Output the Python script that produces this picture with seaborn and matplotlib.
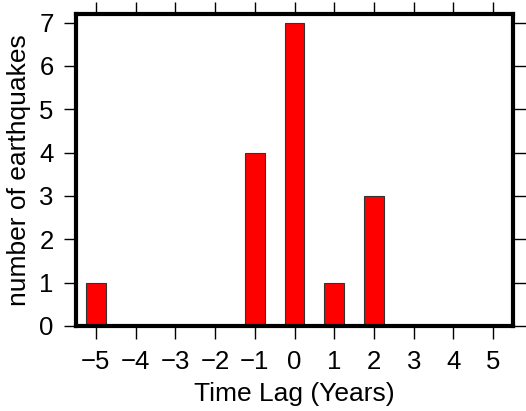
import matplotlib
matplotlib.use("Agg")
import matplotlib.pyplot as plt
import seaborn as sns
import pandas as pd

# values
time_lag = [-5, -1, 0, 1, 2]
counts = [1, 4, 7, 1, 3]
x_ticks = list(range(-5, 6))
y_ticks = list(range(0, 8))

sns.set_style("white")
plt.rcParams['font.family'] = ['Liberation Sans', 'DejaVu Sans']
plt.rcParams['axes.unicode_minus'] = True
plt.rcParams['text.color'] = 'black'
plt.rcParams['axes.labelcolor'] = 'black'
plt.rcParams['xtick.color'] = 'black'
plt.rcParams['ytick.color'] = 'black'

df = pd.DataFrame({'lag': time_lag, 'count': counts})

fig = plt.figure(figsize=(5.26, 4.11), dpi=100)
ax = fig.add_axes([0.1445, 0.207, 0.8308, 0.759])

sns.barplot(data=df, x='lag', y='count', native_scale=True, width=0.5,
            color='#ff0000', saturation=1, edgecolor='#333333', linewidth=0.8, ax=ax)

ax.set_xlim(-5.5, 5.5)
ax.set_ylim(0, 7.2)
ax.set_xticks(x_ticks)
ax.set_xticklabels([str(t).replace('-', '\u2212') for t in x_ticks])
ax.set_yticks(y_ticks)

for s in ax.spines.values():
    s.set_linewidth(3)
    s.set_color('black')

ax.tick_params(axis='both', which='major', direction='out', length=9, width=1,
               labelsize=18.5, pad=7, top=True, right=True, bottom=True, left=True,
               labelcolor='black', color='black')
ax.tick_params(axis='x', pad=8)

ax.set_xlabel('Time Lag (Years)', fontsize=19, labelpad=6, color='black')
ax.set_ylabel('number of earthquakes', fontsize=19, labelpad=6, color='black')

fig.savefig('out.png', dpi=100)
